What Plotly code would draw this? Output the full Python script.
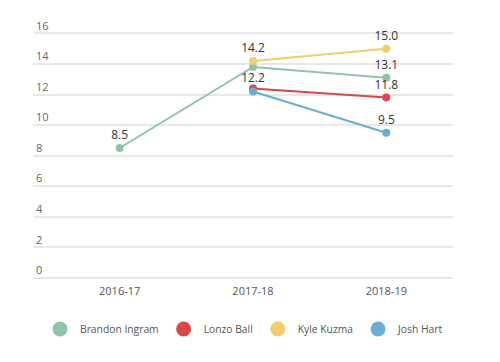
import plotly.graph_objects as go

seasons = ["2016-17", "2017-18", "2018-19"]
ingram = [8.5, 13.8, 13.1]
ball = [None, 12.4, 11.8]
kuzma = [None, 14.2, 15.0]
hart = [None, 12.2, 9.5]

ingram_lbl = ["8.5", "", "13.1"]
ball_lbl = ["", "", "11.8"]
kuzma_lbl = ["", "14.2", "15.0"]
hart_lbl = ["", "12.2", "9.5"]

names = ["Brandon Ingram", "Lonzo Ball", "Kyle Kuzma", "Josh Hart"]
colors = ["#8fc4a9", "#d9464c", "#f2cd6b", "#6aaed6"]
series = [ingram, ball, kuzma, hart]
labels = [ingram_lbl, ball_lbl, kuzma_lbl, hart_lbl]

fig = go.Figure()
for name, col, ys, lb in zip(names, colors, series, labels):
    fig.add_trace(go.Scatter(
        x=seasons, y=ys, mode="lines+markers+text", name=name,
        text=lb, textposition="top center",
        textfont=dict(family="Open Sans", size=12, color="#333333"),
        line=dict(color=col, width=2), marker=dict(color=col, size=8),
        showlegend=False, legendgroup=name, cliponaxis=False,
    ))
for name, col in zip(names, colors):
    fig.add_trace(go.Scatter(
        x=[None], y=[None], mode="markers", name=name,
        marker=dict(color=col, size=15), legendgroup=name, showlegend=True,
    ))

fig.update_layout(
    width=492, height=354,
    margin=dict(l=25, r=47, t=4, b=83),
    paper_bgcolor="white", plot_bgcolor="white",
    font=dict(family="Open Sans", size=11, color="#555555"),
    legend=dict(orientation="h", x=0.0167, xanchor="left", y=-0.187, yanchor="middle",
                font=dict(size=10.3, color="#555555"), itemsizing="trace",
                itemwidth=30, tracegroupgap=0),
    xaxis=dict(type="category", range=[-0.65, 2.5], showgrid=False, zeroline=False,
               showline=False, automargin=False, ticklabelstandoff=4,
               tickfont=dict(size=11, color="#555555")),
    yaxis=dict(range=[-0.07, 17.4], dtick=2, tick0=0, showgrid=True, gridcolor="#e8e8e8",
               gridwidth=1.5, automargin=False,
               zeroline=False, ticklabelposition="inside top",
               tickfont=dict(size=11, color="#666666")),
)

fig.write_html("out.html")
